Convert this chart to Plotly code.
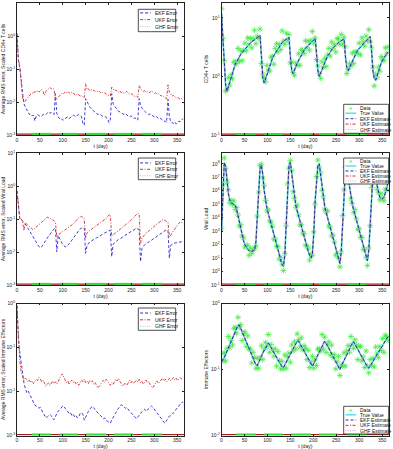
import numpy as np
import plotly.graph_objects as go

W, H = 393, 449
FONT = "Liberation Sans, Arial, sans-serif"

# ---------------- data (log10 of values, sampled every 3 days) ----------------
days = list(range(0, 364, 3))

cd4_true_log = [
    1.08, 0.70, 0.15, -0.15, -0.25, -0.17, -0.08, 0.01, 0.08, 0.15,
    0.21, 0.25, 0.30, 0.34, 0.38, 0.41, 0.44, 0.47, 0.50, 0.53,
    0.56, 0.58, 0.60, 0.61, 0.63, 0.65, 0.67, 0.69, 0.70, 0.35,
    -0.02, -0.11, -0.04, 0.05, 0.12, 0.19, 0.26, 0.31, 0.36, 0.40,
    0.44, 0.48, 0.51, 0.55, 0.58, 0.60, 0.62, 0.64, 0.65, 0.67,
    0.35, 0.10, 0.05, 0.10, 0.17, 0.23, 0.28, 0.33, 0.37, 0.41,
    0.45, 0.48, 0.51, 0.53, 0.55, 0.58, 0.60, 0.62, 0.65, 0.40,
    0.10, 0.00, 0.06, 0.13, 0.19, 0.25, 0.30, 0.35, 0.38, 0.42,
    0.45, 0.49, 0.51, 0.54, 0.56, 0.58, 0.60, 0.61, 0.63, 0.64,
    0.35, 0.15, 0.10, 0.15, 0.22, 0.27, 0.33, 0.37, 0.41, 0.45,
    0.48, 0.51, 0.54, 0.56, 0.59, 0.61, 0.63, 0.65, 0.68, 0.45,
    0.10, -0.04, -0.06, 0.01, 0.09, 0.17, 0.23, 0.28, 0.32, 0.36,
    0.40, 0.42]

cd4_data_log = [
    1.16, 0.65, 0.27, -0.25, -0.22, -0.02, -0.15, 0.03, -0.04, 0.24,
    0.26, 0.22, 0.48, 0.26, 0.44, 0.27, 0.45, 0.57, 0.44, 0.66,
    0.54, 0.65, 0.49, 0.65, 0.79, 0.56, 0.69, 0.65, 0.81, 0.22,
    0.04, -0.02, -0.09, 0.19, 0.11, 0.09, 0.33, 0.34, 0.21, 0.48,
    0.56, 0.42, 0.55, 0.46, 0.78, 0.61, 0.55, 0.74, 0.62, 0.72,
    0.23, 0.25, 0.07, 0.02, 0.23, 0.19, 0.39, 0.19, 0.46, 0.44,
    0.39, 0.61, 0.49, 0.60, 0.45, 0.62, 0.77, 0.57, 0.66, 0.29,
    0.18, 0.05, -0.03, 0.25, 0.16, 0.31, 0.17, 0.37, 0.48, 0.35,
    0.59, 0.48, 0.55, 0.42, 0.65, 0.64, 0.55, 0.72, 0.55, 0.67,
    0.51, 0.05, 0.12, 0.22, 0.18, 0.40, 0.22, 0.42, 0.42, 0.39,
    0.57, 0.37, 0.66, 0.59, 0.52, 0.69, 0.61, 0.80, 0.59, 0.49,
    0.16, -0.16, 0.04, -0.02, 0.16, 0.09, 0.34, 0.30, 0.27, 0.49,
    0.39, 0.50]

vl_true_log = [
    3.0, 6.5, 8.1, 7.8, 6.6, 5.8, 5.3, 5.1, 5.05, 5.0,
    4.9, 4.6, 4.1, 3.6, 3.1, 2.7, 2.3, 2.0, 1.8, 1.65,
    1.55, 1.5, 1.5, 1.55, 1.6, 2.2, 3.8, 6.0, 7.7, 7.9,
    7.2, 6.0, 5.2, 4.7, 4.3, 3.9, 3.5, 3.1, 2.7, 2.3,
    1.9, 1.5, 1.1, 0.8, 0.5, 0.4, 1.2, 3.5, 6.2, 7.9,
    8.1, 7.3, 6.2, 5.4, 4.9, 4.5, 4.1, 3.7, 3.3, 2.9,
    2.5, 2.1, 1.8, 1.5, 1.2, 1.0, 1.3, 2.8, 5.2, 7.0,
    7.9, 8.0, 7.2, 6.1, 5.3, 4.8, 4.4, 4.0, 3.6, 3.2,
    2.8, 2.4, 2.0, 1.6, 1.2, 0.8, 0.6, 1.5, 3.8, 6.2,
    7.5, 7.8, 7.3, 6.3, 5.5, 5.0, 4.6, 4.2, 3.8, 3.4,
    3.0, 2.6, 2.2, 1.8, 1.4, 1.0, 0.8, 1.6, 3.6, 5.8,
    7.2, 7.6, 7.2, 6.4, 5.8, 5.5, 5.4, 5.4, 5.5, 5.8,
    6.2, 6.6]

vl_data_log = [
    3.20, 6.47, 8.43, 7.67, 6.65, 6.08, 5.10, 5.28, 4.97, 5.25,
    4.60, 4.75, 4.20, 3.37, 3.48, 2.65, 2.50, 1.82, 1.88, 1.95,
    1.20, 1.73, 1.35, 1.58, 1.73, 1.92, 4.13, 5.90, 7.88, 7.95,
    6.95, 6.40, 5.28, 4.50, 4.58, 3.77, 3.65, 3.33, 2.40, 2.40,
    1.87, 1.85, 0.92, 1.05, 0.55, 0.07, 1.35, 3.42, 6.50, 7.67,
    8.23, 7.50, 5.92, 5.43, 4.77, 4.93, 4.20, 3.45, 3.48, 2.85,
    2.83, 1.95, 1.88, 1.73, 0.85, 1.28, 1.20, 2.95, 5.00, 7.05,
    8.28, 7.70, 7.33, 6.02, 5.55, 4.62, 4.43, 4.50, 3.37, 3.30,
    2.65, 2.70, 2.20, 1.22, 1.28, 0.98, 0.35, 1.47, 4.15, 6.07,
    7.73, 7.95, 6.97, 6.58, 5.40, 5.05, 4.37, 4.60, 3.90, 3.12,
    3.18, 2.55, 2.53, 1.65, 1.65, 1.03, 0.45, 1.75, 3.40, 6.25,
    7.12, 7.73, 7.43, 6.10, 5.85, 5.32, 5.78, 5.48, 5.25, 6.10,
    6.07, 6.80]

ie_true_log = [
    -0.88, -0.85, -0.82, -0.77, -0.72, -0.67, -0.62, -0.57, -0.52, -0.46,
    -0.41, -0.36, -0.33, -0.33, -0.38, -0.43, -0.48, -0.53, -0.58, -0.63,
    -0.68, -0.73, -0.78, -0.83, -0.88, -0.93, -0.94, -0.90, -0.85, -0.80,
    -0.75, -0.71, -0.66, -0.62, -0.60, -0.63, -0.67, -0.71, -0.74, -0.78,
    -0.81, -0.85, -0.89, -0.92, -0.96, -0.97, -0.93, -0.89, -0.85, -0.81,
    -0.77, -0.73, -0.69, -0.65, -0.61, -0.57, -0.57, -0.61, -0.65, -0.69,
    -0.72, -0.76, -0.80, -0.83, -0.87, -0.91, -0.95, -0.91, -0.86, -0.82,
    -0.78, -0.74, -0.69, -0.65, -0.61, -0.57, -0.60, -0.64, -0.68, -0.72,
    -0.76, -0.80, -0.84, -0.88, -0.92, -0.96, -1.00, -0.95, -0.91, -0.86,
    -0.82, -0.78, -0.73, -0.69, -0.64, -0.60, -0.58, -0.62, -0.66, -0.70,
    -0.73, -0.77, -0.81, -0.85, -0.88, -0.92, -0.96, -0.98, -0.95, -0.91,
    -0.88, -0.84, -0.81, -0.77, -0.74, -0.71, -0.67, -0.64, -0.60, -0.57,
    -0.53, -0.50]

ie_data_log = [
    -0.75, -0.87, -0.75, -0.87, -0.68, -0.50, -0.67, -0.56, -0.63, -0.38,
    -0.36, -0.45, -0.21, -0.36, -0.32, -0.56, -0.46, -0.43, -0.65, -0.49,
    -0.69, -0.69, -0.90, -0.74, -0.82, -0.98, -0.83, -0.98, -0.82, -0.64,
    -0.85, -0.69, -0.59, -0.66, -0.47, -0.74, -0.62, -0.70, -0.80, -0.69,
    -0.95, -0.73, -0.86, -0.99, -0.88, -0.99, -0.78, -0.98, -0.81, -0.75,
    -0.89, -0.63, -0.72, -0.58, -0.69, -0.46, -0.55, -0.66, -0.52, -0.70,
    -0.64, -0.68, -0.85, -0.71, -0.97, -0.88, -0.80, -0.98, -0.84, -0.94,
    -0.69, -0.69, -0.72, -0.47, -0.69, -0.51, -0.74, -0.63, -0.58, -0.78,
    -0.63, -0.82, -0.77, -0.99, -0.88, -0.80, -1.09, -0.93, -0.95, -0.75,
    -0.95, -0.72, -0.64, -0.74, -0.50, -0.61, -0.68, -0.55, -0.63, -0.85,
    -0.65, -0.65, -0.87, -0.81, -0.97, -0.72, -0.95, -1.05, -0.85, -0.94,
    -0.83, -0.96, -0.66, -0.75, -0.82, -0.65, -0.71, -0.53, -0.74, -0.48,
    -0.50, -0.56]

cd4_ekf_err_log = [
    0.05, -0.75, -0.95, -1.30, -1.80, -2.05, -2.15, -2.25, -2.30, -2.38,
    -2.36, -2.42, -2.40, -2.57, -2.43, -2.38, -2.40, -2.44, -2.42, -2.38,
    -2.35, -2.38, -2.33, -2.30, -2.34, -2.32, -2.35, -2.38, -1.75, -2.35,
    -2.45, -2.50, -2.55, -2.52, -2.55, -2.50, -2.48, -2.45, -2.50, -2.47,
    -2.44, -2.40, -2.42, -2.45, -2.40, -2.38, -2.42, -2.44, -2.65, -2.70,
    -1.90, -2.00, -2.08, -2.15, -2.20, -2.25, -2.28, -2.32, -2.35, -2.38,
    -2.36, -2.40, -2.42, -2.45, -2.44, -2.47, -2.50, -2.62, -2.55, -1.75,
    -2.05, -2.12, -2.18, -2.22, -2.28, -2.30, -2.33, -2.36, -2.38, -2.35,
    -2.40, -2.43, -2.45, -2.42, -2.46, -2.50, -2.48, -2.52, -2.55, -1.90,
    -2.10, -2.18, -2.24, -2.28, -2.32, -2.35, -2.38, -2.36, -2.40, -2.43,
    -2.45, -2.42, -2.46, -2.50, -2.48, -2.52, -2.55, -2.58, -2.58, -2.62,
    -1.92, -2.45, -2.60, -2.62, -2.65, -2.60, -2.67, -2.63, -2.58, -2.60,
    -2.55, -2.50]

cd4_ukf_err_log = [
    0.08, -0.70, -0.90, -1.45, -1.85, -2.00, -1.98, -1.90, -1.85, -1.80,
    -1.78, -1.72, -1.75, -1.68, -1.70, -1.65, -1.70, -1.66, -1.62, -1.68,
    -1.80, -1.68, -1.62, -1.60, -1.56, -1.60, -1.58, -1.62, -1.95, -1.90,
    -1.85, -1.80, -1.78, -1.72, -1.75, -1.70, -1.73, -1.68, -1.72, -1.76,
    -1.70, -1.74, -1.78, -1.80, -1.75, -1.78, -1.82, -1.80, -1.85, -1.86,
    -1.45, -1.62, -1.60, -1.65, -1.62, -1.66, -1.64, -1.68, -1.66, -1.70,
    -1.68, -1.72, -1.70, -1.74, -1.72, -1.76, -1.78, -1.80, -1.82, -1.55,
    -1.62, -1.66, -1.64, -1.68, -1.70, -1.66, -1.72, -1.70, -1.74, -1.72,
    -1.68, -1.73, -1.76, -1.74, -1.78, -1.80, -1.84, -1.82, -1.86, -1.50,
    -1.60, -1.64, -1.68, -1.66, -1.70, -1.68, -1.72, -1.70, -1.66, -1.70,
    -1.74, -1.72, -1.76, -1.74, -1.78, -1.82, -1.80, -1.85, -1.88, -1.90,
    -1.48, -1.70, -1.78, -1.82, -1.80, -1.85, -1.88, -1.86, -1.90, -1.92,
    -1.90, -1.95]

vl_ekf_err_log = [
    -0.15, -0.60, -1.00, -1.02, -1.05, -1.10, -1.15, -1.20, -1.28, -1.35,
    -1.42, -1.50, -1.56, -1.62, -1.70, -1.78, -1.84, -1.87, -1.84, -1.78,
    -1.70, -1.64, -1.58, -1.52, -1.46, -1.40, -1.35, -1.30, -1.28, -1.99,
    -1.50, -1.60, -1.68, -1.75, -1.80, -1.84, -1.84, -1.80, -1.75, -1.70,
    -1.64, -1.58, -1.52, -1.46, -1.40, -1.34, -1.30, -1.28, -1.25, -1.28,
    -2.04, -1.80, -1.74, -1.70, -1.67, -1.64, -1.62, -1.60, -1.57, -1.55,
    -1.52, -1.50, -1.48, -1.45, -1.42, -1.40, -1.38, -1.36, -1.34, -2.14,
    -1.78, -1.72, -1.68, -1.65, -1.62, -1.60, -1.57, -1.55, -1.52, -1.49,
    -1.46, -1.43, -1.40, -1.38, -1.36, -1.33, -1.30, -1.28, -1.30, -1.32,
    -2.29, -1.90, -1.82, -1.78, -1.75, -1.72, -1.70, -1.67, -1.64, -1.62,
    -1.59, -1.56, -1.53, -1.50, -1.47, -1.44, -1.40, -1.37, -1.34, -1.32,
    -1.35, -2.19, -1.80, -1.76, -1.74, -1.73, -1.72, -1.71, -1.70, -1.69,
    -1.68, -1.68]

vl_ukf_err_log = [
    -0.15, -0.55, -0.97, -1.00, -1.05, -1.35, -1.12, -1.15, -1.18, -1.22,
    -1.26, -1.30, -1.33, -1.28, -1.24, -1.20, -1.16, -1.12, -1.08, -1.04,
    -1.00, -0.97, -0.95, -0.96, -0.98, -1.00, -1.02, -1.05, -1.10, -1.53,
    -1.48, -1.45, -1.42, -1.40, -1.38, -1.35, -1.32, -1.28, -1.25, -1.22,
    -1.18, -1.15, -1.10, -1.05, -1.00, -0.96, -0.94, -0.92, -0.95, -1.00,
    -1.58, -1.42, -1.38, -1.35, -1.32, -1.30, -1.27, -1.24, -1.21, -1.18,
    -1.15, -1.12, -1.09, -1.06, -1.02, -0.98, -0.93, -0.88, -0.87, -1.53,
    -1.48, -1.45, -1.42, -1.38, -1.35, -1.32, -1.28, -1.25, -1.22, -1.18,
    -1.15, -1.12, -1.08, -1.04, -1.00, -0.95, -0.90, -0.85, -0.82, -0.85,
    -1.73, -1.58, -1.52, -1.47, -1.43, -1.40, -1.36, -1.32, -1.29, -1.26,
    -1.22, -1.19, -1.15, -1.12, -1.08, -1.05, -1.03, -1.02, -1.04, -1.06,
    -1.10, -1.55, -1.48, -1.42, -1.36, -1.30, -1.24, -1.18, -1.12, -1.08,
    -1.10, -1.15]

ie_ekf_err_log = [
    -0.05, -0.80, -1.10, -1.35, -1.55, -1.80, -1.92, -2.02, -1.98, -2.05,
    -2.10, -2.20, -2.28, -2.31, -2.33, -2.35, -2.38, -2.36, -2.42, -2.50,
    -2.55, -2.60, -2.58, -2.55, -2.52, -2.55, -2.62, -2.64, -2.56, -2.50,
    -2.45, -2.40, -2.38, -2.34, -2.33, -2.38, -2.42, -2.46, -2.50, -2.48,
    -2.55, -2.52, -2.58, -2.55, -2.60, -2.57, -2.50, -2.48, -2.52, -2.65,
    -2.60, -2.52, -2.45, -2.40, -2.36, -2.34, -2.38, -2.42, -2.45, -2.50,
    -2.53, -2.55, -2.58, -2.62, -2.60, -2.66, -2.68, -2.70, -2.72, -2.65,
    -2.58, -2.52, -2.48, -2.42, -2.38, -2.35, -2.30, -2.32, -2.35, -2.38,
    -2.36, -2.42, -2.45, -2.48, -2.52, -2.55, -2.60, -2.62, -2.58, -2.55,
    -2.50, -2.46, -2.42, -2.40, -2.45, -2.42, -2.38, -2.35, -2.33, -2.36,
    -2.40, -2.44, -2.48, -2.52, -2.55, -2.60, -2.65, -2.70, -2.72, -2.66,
    -2.60, -2.56, -2.55, -2.52, -2.50, -2.45, -2.40, -2.36, -2.32, -2.28,
    -2.25, -2.24]

ie_ukf_err_log = [
    -0.05, -0.85, -1.30, -1.55, -1.66, -1.75, -1.70, -1.72, -1.78, -1.74,
    -1.80, -1.76, -1.82, -1.77, -1.73, -1.75, -1.68, -1.72, -1.78, -1.74,
    -1.82, -1.88, -1.84, -1.80, -1.86, -1.80, -1.76, -1.82, -1.78, -1.83,
    -1.76, -1.70, -1.65, -1.60, -1.68, -1.74, -1.80, -1.76, -1.84, -1.78,
    -1.74, -1.80, -1.77, -1.83, -1.79, -1.86, -1.81, -1.74, -1.78, -1.72,
    -1.80, -1.76, -1.82, -1.74, -1.79, -1.76, -1.84, -1.80, -1.86, -1.92,
    -1.88, -1.82, -1.78, -1.74, -1.79, -1.72, -1.76, -1.82, -1.86, -1.80,
    -1.84, -1.78, -1.72, -1.76, -1.70, -1.77, -1.83, -1.88, -1.84, -1.80,
    -1.86, -1.81, -1.75, -1.80, -1.76, -1.82, -1.79, -1.74, -1.78, -1.72,
    -1.80, -1.77, -1.83, -1.78, -1.74, -1.80, -1.77, -1.84, -1.88, -1.92,
    -1.86, -1.80, -1.76, -1.82, -1.78, -1.74, -1.70, -1.76, -1.72, -1.78,
    -1.74, -1.70, -1.76, -1.72, -1.68, -1.74, -1.70, -1.75, -1.71, -1.68,
    -1.72, -1.74]

treat_start = [32, 93, 151, 212, 273]
treat_end = [74, 134, 195, 254, 316]

x_ticks = [0, 50, 100, 150, 200, 250, 300, 350]
left_titles = ["Average RMS error, Scaled CD4+ T cells",
               "Average RMS error, Scaled Viral Load",
               "Average RMS error, Scaled Immune Effectors"]
right_titles = ["CD4+ T cells", "Viral Load", "Immune Effectors"]
left_legend = ["EKF Error", "UKF Error", "GHF Error"]
right_legend = ["Data", "True Value", "EKF Estimate", "UKF Estimate", "GHF Estimate"]

# ---------------- styling / layout ----------------
C_EKF = "#2b2bd0"
C_UKF = "#d03030"
C_TRUE = "#5fe0e8"
C_DATA = "#3ee83e"
C_GHF_R = "#d8a8d0"
C_GHF_L = "#b8c8b8"
C_BOT = "#a02020"
C_TREAT = "#3ad83a"
DASH = "3px,2px"
DASHDOT = "3px,1.5px,1px,1.5px"
DOT = "1px,1.3px"


def px(x):
    return x / W


def py(y):
    return 1 - y / H


XL, XR = (17, 184), (221.5, 389)
ROWS = [(3, 135), (153, 285), (303.5, 435.5)]
panels = [
    dict(xd=XL, yd=ROWS[0], yr=(-3, 1)),
    dict(xd=XR, yd=ROWS[0], yr=(-1, 1.256)),
    dict(xd=XL, yd=ROWS[1], yr=(-3, 1)),
    dict(xd=XR, yd=ROWS[1], yr=(-1, 8.8)),
    dict(xd=XL, yd=ROWS[2], yr=(-3, 0)),
    dict(xd=XR, yd=ROWS[2], yr=(-2, 0)),
]

fig = go.Figure()


def ax_names(i):
    return ("x" if i == 1 else f"x{i}"), ("y" if i == 1 else f"y{i}")


def v(a):
    return 10 ** np.array(a, dtype=float)


def add_bottom(i):
    xa, ya = ax_names(i)
    lo, hi = panels[i - 1]["yr"]
    yb = 10 ** (lo + 0.007 * (hi - lo))
    fig.add_trace(go.Scatter(x=[0, 365], y=[yb, yb], mode="lines",
                             line=dict(color=C_BOT, width=1.3),
                             xaxis=xa, yaxis=ya, hoverinfo="skip"))
    xs, ys = [], []
    for s, e in zip(treat_start, treat_end):
        xs += [s, e, None]
        ys += [yb, yb, None]
    fig.add_trace(go.Scatter(x=xs, y=ys, mode="lines",
                             line=dict(color=C_TREAT, width=2.4),
                             xaxis=xa, yaxis=ya, hoverinfo="skip"))


def add_left(i, ekf, ukf):
    xa, ya = ax_names(i)
    fig.add_trace(go.Scatter(x=days, y=v(ekf), mode="lines",
                             line=dict(color=C_EKF, width=0.9, dash=DASH),
                             xaxis=xa, yaxis=ya))
    fig.add_trace(go.Scatter(x=days, y=v(ukf), mode="lines",
                             line=dict(color=C_UKF, width=0.9, dash=DASHDOT),
                             xaxis=xa, yaxis=ya))
    add_bottom(i)


def add_right(i, data, true):
    xa, ya = ax_names(i)
    fig.add_trace(go.Scatter(x=days, y=v(data), mode="markers",
                             marker=dict(symbol="asterisk-open", size=5, color=C_DATA,
                                         line=dict(width=0.7, color=C_DATA)),
                             xaxis=xa, yaxis=ya))
    fig.add_trace(go.Scatter(x=days, y=v(true), mode="lines",
                             line=dict(color=C_TRUE, width=1.8), xaxis=xa, yaxis=ya))
    fig.add_trace(go.Scatter(x=days, y=v(true), mode="lines",
                             line=dict(color=C_UKF, width=0.6, dash=DASHDOT), xaxis=xa, yaxis=ya))
    fig.add_trace(go.Scatter(x=days, y=v(true), mode="lines",
                             line=dict(color=C_GHF_R, width=0.6, dash=DOT), xaxis=xa, yaxis=ya))
    fig.add_trace(go.Scatter(x=days, y=v(true), mode="lines",
                             line=dict(color="#1a1a8a", width=0.9, dash=DASH), xaxis=xa, yaxis=ya))
    add_bottom(i)


add_left(1, cd4_ekf_err_log, cd4_ukf_err_log)
add_right(2, cd4_data_log, cd4_true_log)
add_left(3, vl_ekf_err_log, vl_ukf_err_log)
add_right(4, vl_data_log, vl_true_log)
add_left(5, ie_ekf_err_log, ie_ukf_err_log)
add_right(6, ie_data_log, ie_true_log)

tickfont = dict(size=5, family=FONT, color="#222")
layout = dict(width=W, height=H, margin=dict(l=0, r=0, t=0, b=0),
              paper_bgcolor="white", plot_bgcolor="white", showlegend=False,
              font=dict(family=FONT, size=5, color="#222"))

for i, p in enumerate(panels, start=1):
    xk = "xaxis" if i == 1 else f"xaxis{i}"
    yk = "yaxis" if i == 1 else f"yaxis{i}"
    xa, ya = ax_names(i)
    lo, hi = p["yr"]
    decs = list(range(int(np.ceil(lo)), int(np.floor(hi)) + 1))
    common = dict(showline=True, linecolor="#222", linewidth=0.8, mirror="ticks",
                  ticks="inside", ticklen=2, tickwidth=0.6, tickcolor="#222",
                  showgrid=False, zeroline=False, tickfont=tickfont, automargin=False)
    layout[xk] = dict(common, domain=[px(p["xd"][0]), px(p["xd"][1])], range=[0, 365],
                      anchor=ya, tickvals=x_ticks, ticktext=[str(t) for t in x_ticks],
                      title=dict(text="t (day)", font=dict(size=5, family=FONT), standoff=1))
    ytitle = left_titles[(i - 1) // 2] if i % 2 == 1 else right_titles[(i - 1) // 2]
    layout[yk] = dict(common, domain=[py(p["yd"][1]), py(p["yd"][0])], type="log",
                      range=[lo, hi], anchor=xa,
                      tickvals=[10.0 ** d for d in decs],
                      ticktext=[f"10<sup>{d}</sup>" for d in decs],
                      title=dict(text=ytitle, font=dict(size=5, family=FONT), standoff=2))

fig.update_layout(**layout)

# ---------------- legends (MATLAB-style boxes) ----------------
shapes, annots = [], []


def draw_legend(box, rows, items):
    x0, y0, x1, y1 = box
    shapes.append(dict(type="rect", xref="paper", yref="paper", layer="above",
                       x0=px(x0), x1=px(x1), y0=py(y1), y1=py(y0),
                       line=dict(color="#222", width=0.8), fillcolor="white"))
    for (kind, color, dash, label), yr in zip(items, rows):
        if kind == "marker":
            annots.append(dict(x=px(x0 + 7), y=py(yr), xref="paper", yref="paper",
                               text="*", showarrow=False, xanchor="center", yanchor="middle",
                               yshift=-1.5, font=dict(size=8, color=color, family=FONT)))
        else:
            shapes.append(dict(type="line", xref="paper", yref="paper", layer="above",
                               x0=px(x0 + 1.8), x1=px(x0 + 12.5), y0=py(yr), y1=py(yr),
                               line=dict(color=color, width=1.0 if kind != "true" else 1.5,
                                         dash=dash)))
        annots.append(dict(x=px(x0 + 14.5), y=py(yr), xref="paper", yref="paper",
                           text=label, showarrow=False, xanchor="left", yanchor="middle",
                           font=dict(size=5, color="#111", family=FONT)))


left_items = [("line", C_EKF, DASH, left_legend[0]),
              ("line", C_UKF, DASHDOT, left_legend[1]),
              ("line", C_GHF_L, DOT, left_legend[2])]
right_items = [("marker", C_DATA, None, right_legend[0]),
               ("true", C_TRUE, "solid", right_legend[1]),
               ("line", C_EKF, DASH, right_legend[2]),
               ("line", C_UKF, DASHDOT, right_legend[3]),
               ("line", C_GHF_R, DOT, right_legend[4])]

draw_legend((138.3, 9.3, 175.7, 31.7), [12.9, 19.6, 26.6], left_items)
draw_legend((138.3, 158.0, 175.7, 179.7), [162.9, 169.3, 175.8], left_items)
draw_legend((138.3, 308.0, 175.7, 330.3), [313.0, 319.8, 326.4], left_items)
draw_legend((343.7, 104.3, 388.7, 133.3), [107.8, 113.2, 118.7, 124.1, 129.5], right_items)
draw_legend((343.7, 158.0, 388.7, 184.0), [161.0, 166.0, 171.0, 176.0, 181.0], right_items)
draw_legend((343.7, 406.3, 388.7, 434.0), [409.5, 414.8, 420.0, 425.3, 430.6], right_items)

fig.update_layout(shapes=shapes, annotations=annots)
fig.write_html("out.html")
